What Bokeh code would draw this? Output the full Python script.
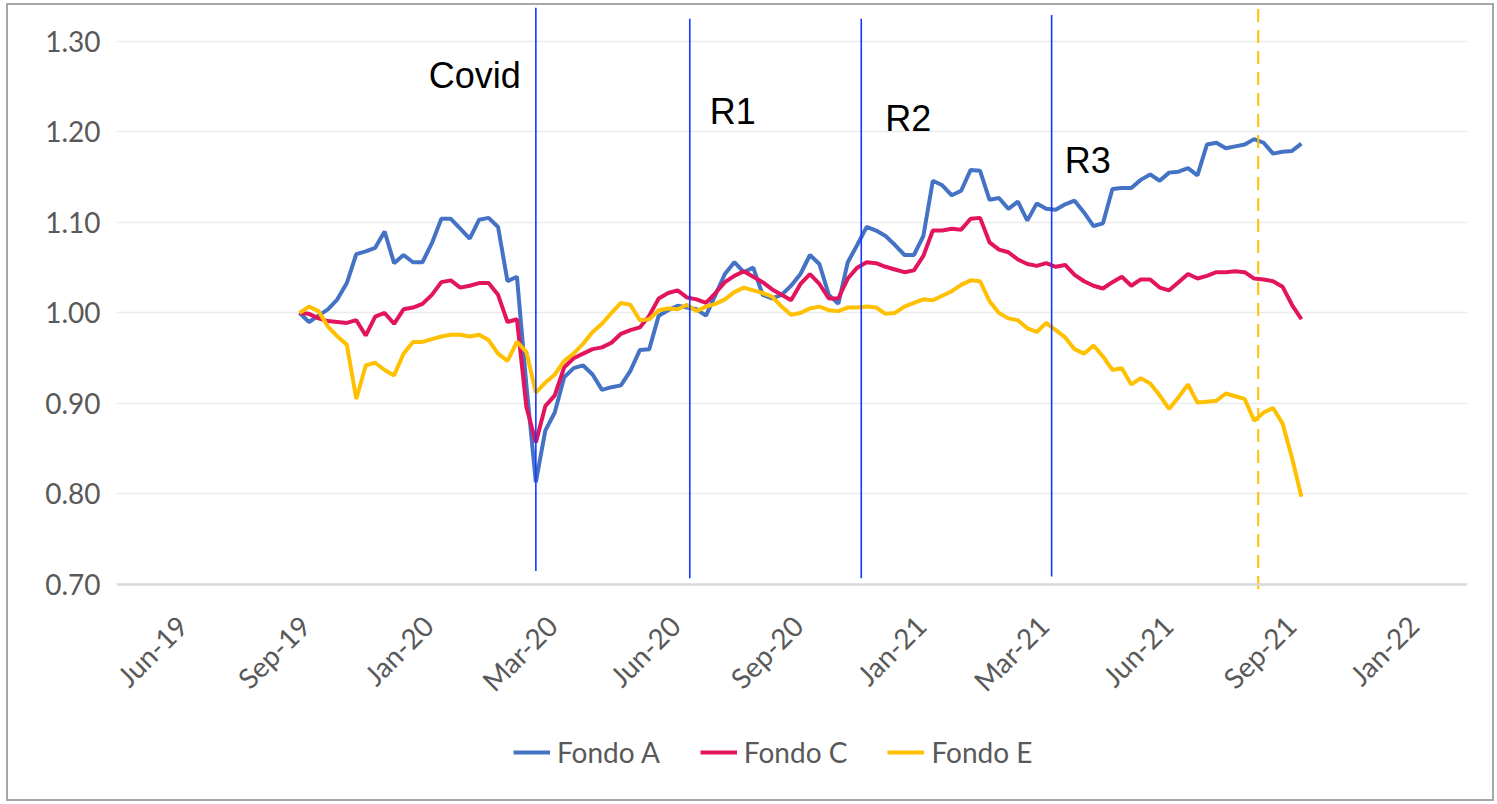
import math
import pandas as pd
from bokeh.plotting import figure
from bokeh.models import (Range1d, FixedTicker, Legend, LegendItem, Label, Span,
                          ColumnDataSource, PrintfTickFormatter)
from bokeh.core.properties import value
from bokeh.embed import file_html
from bokeh.resources import INLINE

# ---------------- data ----------------
start_date = "2019-09-30"

fondo_a = [1.000, 0.990, 0.997, 1.004, 1.015, 1.033, 1.065, 1.068, 1.072, 1.090,
           1.055, 1.064, 1.056, 1.056, 1.077, 1.104, 1.104, 1.093, 1.082, 1.103,
           1.105, 1.095, 1.035, 1.040, 0.920, 0.813, 0.870, 0.890, 0.929, 0.939,
           0.942, 0.932, 0.915, 0.918, 0.920, 0.936, 0.959, 0.960, 0.997, 1.003,
           1.008, 1.006, 1.004, 0.997, 1.020, 1.043, 1.056, 1.045, 1.050, 1.020,
           1.016, 1.020, 1.030, 1.043, 1.064, 1.054, 1.020, 1.010, 1.056, 1.075,
           1.095, 1.091, 1.085, 1.075, 1.064, 1.064, 1.085, 1.146, 1.141, 1.130,
           1.135, 1.158, 1.157, 1.125, 1.127, 1.115, 1.123, 1.102, 1.121, 1.115,
           1.114, 1.120, 1.124, 1.111, 1.096, 1.099, 1.137, 1.138, 1.138, 1.147,
           1.153, 1.146, 1.155, 1.156, 1.160, 1.152, 1.186, 1.188, 1.182, 1.184,
           1.186, 1.192, 1.188, 1.176, 1.178, 1.179, 1.187]

fondo_c = [1.000, 0.999, 0.994, 0.991, 0.990, 0.989, 0.992, 0.975, 0.996, 1.000,
           0.988, 1.004, 1.006, 1.010, 1.020, 1.034, 1.036, 1.028, 1.030, 1.033,
           1.033, 1.020, 0.990, 0.993, 0.896, 0.857, 0.897, 0.909, 0.940, 0.950,
           0.955, 0.960, 0.962, 0.967, 0.977, 0.981, 0.984, 0.997, 1.016, 1.022,
           1.025, 1.017, 1.015, 1.011, 1.022, 1.034, 1.041, 1.046, 1.040, 1.034,
           1.026, 1.020, 1.014, 1.032, 1.043, 1.032, 1.016, 1.016, 1.038, 1.050,
           1.056, 1.055, 1.051, 1.048, 1.045, 1.047, 1.063, 1.091, 1.091, 1.093,
           1.092, 1.104, 1.105, 1.078, 1.070, 1.067, 1.059, 1.054, 1.052, 1.055,
           1.051, 1.053, 1.042, 1.035, 1.030, 1.027, 1.034, 1.040, 1.030, 1.037,
           1.037, 1.028, 1.025, 1.034, 1.043, 1.038, 1.041, 1.045, 1.045, 1.046,
           1.045, 1.038, 1.037, 1.035, 1.029, 1.009, 0.993]

fondo_e = [1.000, 1.007, 1.002, 0.985, 0.974, 0.965, 0.905, 0.942, 0.945, 0.937,
           0.931, 0.955, 0.968, 0.968, 0.971, 0.974, 0.976, 0.976, 0.974, 0.976,
           0.970, 0.955, 0.947, 0.968, 0.957, 0.912, 0.923, 0.932, 0.947, 0.955,
           0.966, 0.979, 0.988, 1.000, 1.011, 1.009, 0.992, 0.993, 1.003, 1.005,
           1.004, 1.009, 1.002, 1.007, 1.010, 1.015, 1.023, 1.028, 1.025, 1.022,
           1.018, 1.007, 0.998, 1.000, 1.005, 1.007, 1.003, 1.002, 1.006, 1.006,
           1.007, 1.006, 0.999, 1.000, 1.007, 1.011, 1.015, 1.014, 1.019, 1.024,
           1.031, 1.036, 1.035, 1.013, 1.000, 0.994, 0.992, 0.983, 0.979, 0.989,
           0.981, 0.973, 0.960, 0.955, 0.964, 0.952, 0.937, 0.939, 0.921, 0.928,
           0.922, 0.909, 0.894, 0.907, 0.921, 0.901, 0.902, 0.903, 0.911, 0.908,
           0.905, 0.881, 0.890, 0.895, 0.878, 0.840, 0.797]

series_names = ["Fondo A", "Fondo C", "Fondo E"]
series_colors = ["#4472C4", "#E2145E", "#FFC000"]

tick_dates = ["2019-07-05", "2019-10-04", "2020-01-03", "2020-04-04", "2020-07-04",
              "2020-10-03", "2021-01-02", "2021-04-03", "2021-07-04", "2021-10-03",
              "2022-01-02"]
tick_labels = ["Jun-19", "Sep-19", "Jan-20", "Mar-20", "Jun-20", "Sep-20",
               "Jan-21", "Mar-21", "Jun-21", "Sep-21", "Jan-22"]
y_ticks = [0.70, 0.80, 0.90, 1.00, 1.10, 1.20, 1.30]

event_names = ["Covid", "R1", "R2", "R3"]
event_dates = ["2020-03-23", "2020-07-15", "2020-11-19", "2021-04-09"]
event_bottom = [0.715, 0.707, 0.707, 0.709]
event_top = [1.337, 1.325, 1.325, 1.329]
event_label_y = [1.262, 1.223, 1.215, 1.168]
event_label_dx = [-15, 20, 24, 13]

marker_date = "2021-09-09"
marker_bottom = 0.695
marker_top = 1.3396


def ms(d):
    return pd.Timestamp(d).value // 10**6


dates = pd.date_range(start_date, periods=len(fondo_a), freq="7D")
src = ColumnDataSource(dict(x=dates, a=fondo_a, c=fondo_c, e=fondo_e))

Y_TOP = 1.3396
Y_BOTTOM = Y_TOP - 794 / 905.3   # frame also holds the date labels and legend

p = figure(frame_width=1351, frame_height=794, x_axis_type="datetime",
           x_axis_location=None,
           output_backend="svg", toolbar_location=None,
           x_range=Range1d(ms("2019-05-17 10:00"), ms("2022-02-11")),
           y_range=Range1d(Y_BOTTOM, Y_TOP),
           min_border_left=108, min_border_right=25,
           min_border_top=0, min_border_bottom=0)
p.outline_line_color = None
p.background_fill_color = "white"
p.border_fill_color = "white"
p.styles = {"border": "2px solid #a6a6a6", "margin": "3px 0px 0px 6px"}

# horizontal axis line at the base of the value range
p.add_layout(Span(location=y_ticks[0], dimension="width",
                  line_color="#d9d9d9", line_width=2.5))

renderers = []
for col, name, color in zip(["a", "c", "e"], series_names, series_colors):
    r = p.line(x="x", y=col, source=src, line_color=color, line_width=4)
    renderers.append(r)

ev_x = [ms(d) for d in event_dates]
p.segment(x0=ev_x, y0=event_bottom, x1=ev_x, y1=event_top,
          line_color="#1438FF", line_width=1.6)
p.segment(x0=[ms(marker_date)], y0=[marker_bottom], x1=[ms(marker_date)], y1=[marker_top],
          line_color="#FFC000", line_width=2, line_dash="13 8")

for name, x, y, dx in zip(event_names, ev_x, event_label_y, event_label_dx):
    p.add_layout(Label(x=x, y=y, text=name, x_offset=dx,
                       text_align="right" if dx < 0 else "left",
                       text_baseline="alphabetic",
                       text_font="Liberation Sans", text_font_size="36px",
                       text_color="black"))

# date tick labels (rotated) under the axis line
tv = [ms(d) for d in tick_dates]
tick_src = ColumnDataSource(dict(x=tv, y=[y_ticks[0]] * len(tv), text=tick_labels))
p.text(x="x", y="y", text="text", source=tick_src, angle=math.pi / 4,
       text_align="right", text_baseline="middle", y_offset=36,
       text_font=value("Lato"), text_font_size="28px", text_color="#595959")

# y axis
p.yaxis.ticker = FixedTicker(ticks=y_ticks)
p.yaxis.formatter = PrintfTickFormatter(format="%.2f")
p.yaxis.major_label_text_font = "Lato"
p.yaxis.major_label_text_font_size = "28px"
p.yaxis.major_label_text_color = "#595959"
p.yaxis.major_label_standoff = 16
p.yaxis.major_tick_out = 0
p.yaxis.axis_line_color = None
p.yaxis.major_tick_line_color = None
p.yaxis.minor_tick_line_color = None

for g in p.xgrid:
    g.visible = False
p.ygrid.grid_line_color = "#ebebeb"
p.ygrid.grid_line_width = 1.5

legend = Legend(items=[LegendItem(label=n, renderers=[r]) for n, r in zip(series_names, renderers)],
                orientation="horizontal", location=(397, 30),
                label_text_font="Lato", label_text_font_size="28px",
                label_text_color="#595959", glyph_width=37, glyph_height=20,
                spacing=40, label_standoff=7, border_line_color=None,
                background_fill_alpha=0, margin=0, padding=0)
p.add_layout(legend, "center")

open("out.html", "w").write(file_html(p, INLINE))
